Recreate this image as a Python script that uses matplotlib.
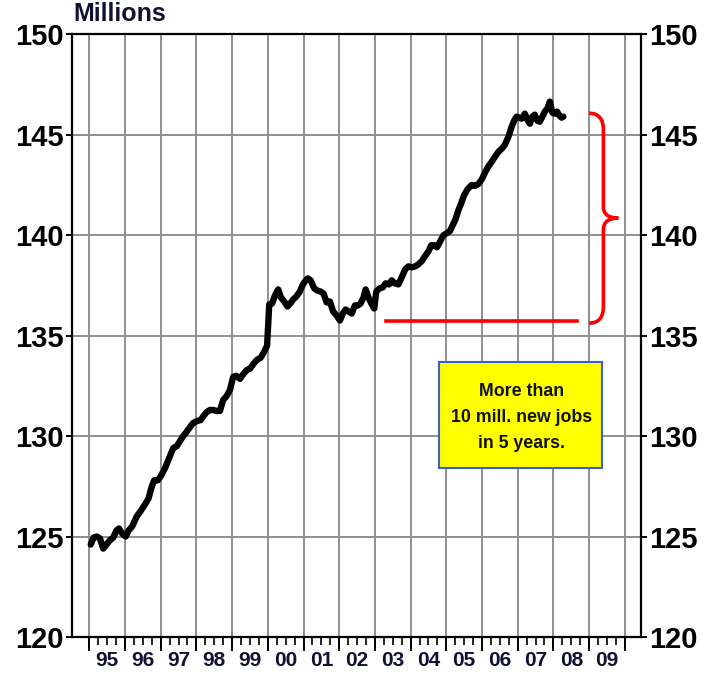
import matplotlib
matplotlib.use('Agg')
import matplotlib.pyplot as plt
from matplotlib.path import Path
from matplotlib.patches import PathPatch, Rectangle
import numpy as np

plt.rcParams['font.family'] = ['Liberation Sans', 'DejaVu Sans']

# employment, millions
years = [1995.04, 1995.12, 1995.21, 1995.30, 1995.39, 1995.48, 1995.57, 1995.67, 1995.76, 1995.83,
         1995.92, 1996.02, 1996.10, 1996.20, 1996.33, 1996.45, 1996.56, 1996.66, 1996.75, 1996.82,
         1996.92, 1997.00, 1997.12, 1997.26, 1997.35, 1997.45, 1997.54, 1997.63, 1997.72, 1997.80,
         1997.91, 1998.02, 1998.12, 1998.20, 1998.29, 1998.38, 1998.47, 1998.56, 1998.66, 1998.75,
         1998.85, 1998.94, 1999.03, 1999.12, 1999.22, 1999.32, 1999.42, 1999.50, 1999.60, 1999.70,
         1999.80, 1999.90, 1999.98, 2000.04, 2000.12, 2000.20, 2000.29, 2000.37, 2000.46, 2000.55,
         2000.63, 2000.71, 2000.80, 2000.90, 2000.97, 2001.04, 2001.12, 2001.20, 2001.30, 2001.38,
         2001.47, 2001.56, 2001.65, 2001.74, 2001.83, 2001.93, 2002.02, 2002.10, 2002.18, 2002.26,
         2002.35, 2002.44, 2002.52, 2002.60, 2002.68, 2002.74, 2002.82, 2002.90, 2002.98, 2003.04,
         2003.13, 2003.22, 2003.30, 2003.40, 2003.47, 2003.56, 2003.66, 2003.75, 2003.85, 2003.94,
         2004.04, 2004.13, 2004.22, 2004.31, 2004.40, 2004.50, 2004.58, 2004.66, 2004.74, 2004.83,
         2004.92, 2005.01, 2005.10, 2005.18, 2005.26, 2005.34, 2005.42, 2005.50, 2005.60, 2005.71,
         2005.80, 2005.90, 2006.00, 2006.08, 2006.17, 2006.27, 2006.36, 2006.46, 2006.55, 2006.64,
         2006.74, 2006.83, 2006.90, 2006.97, 2007.04, 2007.11, 2007.20, 2007.27, 2007.34, 2007.41,
         2007.48, 2007.55, 2007.62, 2007.69, 2007.76, 2007.83, 2007.90, 2007.97, 2008.04, 2008.10,
         2008.17, 2008.23, 2008.28]
employment = [124.60, 124.95, 125.00, 124.90, 124.40, 124.60, 124.80, 124.95, 125.30, 125.40,
              125.15, 125.00, 125.30, 125.50, 126.00, 126.30, 126.60, 126.90, 127.50, 127.80,
              127.80, 128.00, 128.40, 129.00, 129.40, 129.50, 129.75, 130.00, 130.20, 130.40,
              130.65, 130.75, 130.80, 131.00, 131.20, 131.30, 131.30, 131.25, 131.25, 131.80,
              132.00, 132.30, 132.95, 133.00, 132.85, 133.10, 133.30, 133.35, 133.60, 133.80,
              133.90, 134.20, 134.50, 136.55, 136.60, 137.00, 137.30, 136.90, 136.70, 136.45,
              136.60, 136.80, 136.95, 137.20, 137.50, 137.70, 137.85, 137.75, 137.35, 137.25,
              137.20, 137.10, 136.65, 136.70, 136.20, 136.00, 135.75, 136.10, 136.30, 136.20,
              136.10, 136.50, 136.50, 136.60, 136.90, 137.30, 136.90, 136.60, 136.35, 137.20,
              137.35, 137.40, 137.60, 137.55, 137.75, 137.60, 137.55, 137.90, 138.30, 138.45,
              138.40, 138.45, 138.55, 138.70, 138.95, 139.20, 139.50, 139.50, 139.40, 139.70,
              140.00, 140.10, 140.20, 140.50, 140.80, 141.25, 141.60, 142.00, 142.30, 142.50,
              142.45, 142.55, 142.80, 143.10, 143.40, 143.65, 143.90, 144.15, 144.30, 144.50,
              144.90, 145.40, 145.70, 145.90, 145.85, 145.80, 146.05, 145.75, 145.55, 145.90,
              146.00, 145.70, 145.65, 145.90, 146.15, 146.30, 146.65, 146.10, 146.05, 146.15,
              145.95, 145.85, 145.90]

year_labels = ['95', '96', '97', '98', '99', '00', '01', '02', '03', '04', '05', '06', '07', '08', '09']
y_ticks = [120, 125, 130, 135, 140, 145, 150]
base_level = 135.74   # level marked by the red line
box_text = 'More than\n10 mill. new jobs\nin 5 years.'

fig = plt.figure(figsize=(7.12, 6.79), dpi=100)
ax = fig.add_axes([0.1007, 0.0619, 0.7996, 0.8876])

ax.set_xlim(1994.507, 2010.454)
ax.set_ylim(120, 150)

# grid
for yr in range(1995, 2011):
    ax.axvline(yr, color='#8f8f8f', lw=1.4, zorder=1)
for v in y_ticks[1:-1]:
    ax.axhline(v, color='#8f8f8f', lw=1.4, zorder=1)

ax.plot(years, employment, color='black', lw=4.6, solid_joinstyle='round',
        solid_capstyle='round', zorder=3)

# red base line
ax.plot([2003.30, 2008.65], [base_level, base_level], color='#ff0000', lw=2.6, zorder=3)

# brace
verts = [(2009.00, 146.07), (2009.40, 146.07), (2009.40, 145.24),
         (2009.40, 141.42),
         (2009.40, 140.85), (2009.82, 140.85),
         (2009.40, 140.85), (2009.40, 140.26),
         (2009.40, 136.45),
         (2009.40, 135.62), (2009.00, 135.62)]
codes = [Path.MOVETO, Path.CURVE3, Path.CURVE3,
         Path.LINETO,
         Path.CURVE3, Path.CURVE3,
         Path.CURVE3, Path.CURVE3,
         Path.LINETO,
         Path.CURVE3, Path.CURVE3]
ax.add_patch(PathPatch(Path(verts, codes), fill=False, edgecolor='#ff0000', lw=2.6, zorder=3))

# text box
ax.add_patch(Rectangle((2004.80, 128.42), 4.55, 5.29, facecolor='#ffff00',
                       edgecolor='#3a5fd0', lw=1.5, zorder=4))
ax.text(2007.11, 130.91, box_text, ha='center', va='center', fontsize=12.8,
        fontweight='bold', linespacing=1.7, zorder=5, color='#111100')

# axes styling
for s in ax.spines.values():
    s.set_color('black')
    s.set_linewidth(1.6)
    s.set_zorder(6)

ax.set_yticks(y_ticks)
ax.set_yticklabels([str(v) for v in y_ticks])
ax.tick_params(axis='y', left=True, right=True, labelleft=True, labelright=True,
               length=4, width=1.4, pad=2, labelsize=21)
for lab in ax.get_yticklabels():
    lab.set_fontweight('bold')

ax.set_xticks(range(1995, 2011))
ax.set_xticklabels([])
ax.set_xticks(np.arange(1995, 2010.01, 0.25), minor=True)
ax.tick_params(axis='x', which='major', direction='out', length=10, width=1.4)
ax.tick_params(axis='x', which='minor', direction='out', length=6, width=1.2)

for i, lab in enumerate(year_labels):
    ax.text(1995.5 + i, -0.039, lab, transform=ax.get_xaxis_transform(),
            ha='center', va='center', fontsize=15, fontweight='bold', color='#111133')

ax.text(0.003, 1.014, 'Millions', transform=ax.transAxes, ha='left', va='bottom',
        fontsize=18, fontweight='bold', color='#111133')

plt.savefig('out.png', dpi=100)
